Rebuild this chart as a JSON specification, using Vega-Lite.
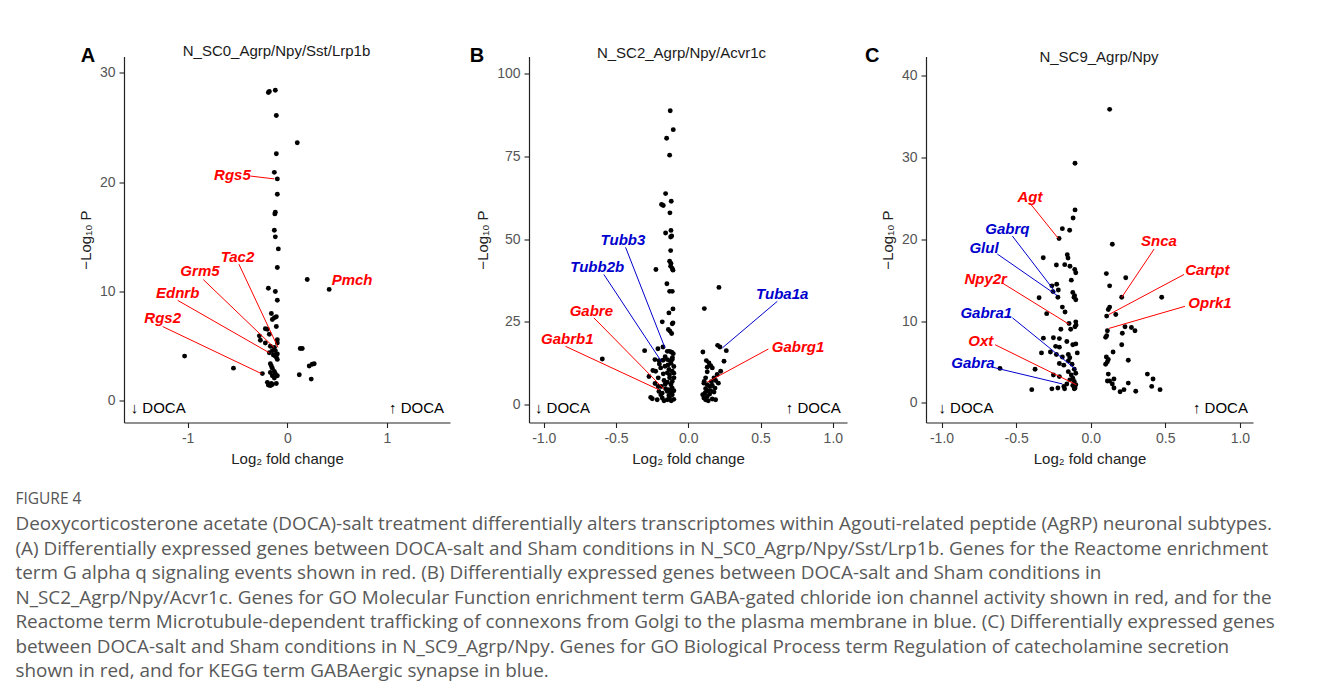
{
  "$schema": "https://vega.github.io/schema/vega-lite/v6.json",
  "background": "white",
  "padding": {"left": 15, "top": 43.5, "right": 5, "bottom": 5},
  "bounds": "flush",
  "spacing": 79,
  "config": {
    "view": {"stroke": null},
    "font": "Liberation Sans",
    "axis": {"grid": false, "domainColor": "#222", "domainWidth": 1.2, "tickColor": "#222", "tickSize": 5, "tickWidth": 1.1, "labelColor": "#555", "labelFontSize": 14, "labelPadding": 4, "titleColor": "#222", "titleFontSize": 15, "titleFontWeight": "normal", "titlePadding": 6, "labelFont": "Liberation Sans", "titleFont": "Liberation Sans"}
  },
  "title": {
    "text": "FIGURE 4",
    "subtitle": [
      "Deoxycorticosterone acetate (DOCA)-salt treatment differentially alters transcriptomes within Agouti-related peptide (AgRP) neuronal subtypes.",
      "(A) Differentially expressed genes between DOCA-salt and Sham conditions in N_SC0_Agrp/Npy/Sst/Lrp1b. Genes for the Reactome enrichment",
      "term G alpha q signaling events shown in red. (B) Differentially expressed genes between DOCA-salt and Sham conditions in",
      "N_SC2_Agrp/Npy/Acvr1c. Genes for GO Molecular Function enrichment term GABA-gated chloride ion channel activity shown in red, and for the",
      "Reactome term Microtubule-dependent trafficking of connexons from Golgi to the plasma membrane in blue. (C) Differentially expressed genes",
      "between DOCA-salt and Sham conditions in N_SC9_Agrp/Npy. Genes for GO Biological Process term Regulation of catecholamine secretion",
      "shown in red, and for KEGG term GABAergic synapse in blue."
    ],
    "orient": "bottom",
    "anchor": "start",
    "dx": -63,
    "offset": 25,
    "font": "Open Sans",
    "fontSize": 15.5,
    "fontWeight": "normal",
    "color": "#555",
    "subtitleFont": "Open Sans",
    "subtitleFontSize": 18.9,
    "subtitleColor": "#595959",
    "subtitleLineHeight": 24.5,
    "subtitlePadding": 8
  },
  "datasets": {
    "ptsA": [
      {"lfc": -0.19, "nlp": 28.2}, {"lfc": -0.18, "nlp": 28.3}, {"lfc": -0.12, "nlp": 28.4},
      {"lfc": -0.11, "nlp": 26.1}, {"lfc": 0.10, "nlp": 23.6}, {"lfc": -0.11, "nlp": 22.6},
      {"lfc": -0.13, "nlp": 20.9}, {"lfc": -0.10, "nlp": 20.3}, {"lfc": -0.10, "nlp": 18.9},
      {"lfc": -0.12, "nlp": 17.25}, {"lfc": -0.125, "nlp": 17.1}, {"lfc": -0.13, "nlp": 15.6},
      {"lfc": -0.12, "nlp": 15.0}, {"lfc": -0.09, "nlp": 13.9}, {"lfc": -0.10, "nlp": 12.2},
      {"lfc": 0.20, "nlp": 11.1}, {"lfc": 0.42, "nlp": 10.2}, {"lfc": -0.19, "nlp": 10.3},
      {"lfc": -0.12, "nlp": 10.0}, {"lfc": -0.10, "nlp": 9.2}, {"lfc": -0.16, "nlp": 8.0},
      {"lfc": -0.15, "nlp": 7.45}, {"lfc": -0.13, "nlp": 7.6}, {"lfc": -0.11, "nlp": 7.7},
      {"lfc": -0.11, "nlp": 6.8}, {"lfc": -0.22, "nlp": 6.6}, {"lfc": -0.20, "nlp": 6.55},
      {"lfc": -0.18, "nlp": 6.1}, {"lfc": -0.28, "nlp": 5.95}, {"lfc": -0.27, "nlp": 5.55},
      {"lfc": -0.10, "nlp": 5.6}, {"lfc": -0.10, "nlp": 5.3}, {"lfc": -0.22, "nlp": 5.3},
      {"lfc": -0.17, "nlp": 5.0}, {"lfc": -0.13, "nlp": 4.9}, {"lfc": -0.15, "nlp": 4.6},
      {"lfc": -0.12, "nlp": 4.6}, {"lfc": -0.18, "nlp": 4.4}, {"lfc": -0.10, "nlp": 4.3},
      {"lfc": -0.11, "nlp": 4.0}, {"lfc": -0.14, "nlp": 4.2}, {"lfc": -0.10, "nlp": 3.8},
      {"lfc": -0.12, "nlp": 4.1}, {"lfc": 0.13, "nlp": 4.8}, {"lfc": 0.15, "nlp": 4.8},
      {"lfc": -1.03, "nlp": 4.1}, {"lfc": -0.54, "nlp": 3.0}, {"lfc": -0.25, "nlp": 2.5},
      {"lfc": -0.17, "nlp": 3.4}, {"lfc": -0.15, "nlp": 3.0}, {"lfc": -0.13, "nlp": 2.7},
      {"lfc": -0.12, "nlp": 2.5}, {"lfc": -0.10, "nlp": 2.3}, {"lfc": -0.17, "nlp": 2.6},
      {"lfc": -0.15, "nlp": 2.3}, {"lfc": -0.16, "nlp": 3.2}, {"lfc": -0.13, "nlp": 2.1},
      {"lfc": 0.22, "nlp": 3.2}, {"lfc": 0.25, "nlp": 3.35}, {"lfc": 0.27, "nlp": 3.4},
      {"lfc": 0.12, "nlp": 2.4}, {"lfc": 0.24, "nlp": 2.0}, {"lfc": -0.20, "nlp": 1.7},
      {"lfc": -0.18, "nlp": 1.5}, {"lfc": -0.16, "nlp": 1.6}, {"lfc": -0.19, "nlp": 1.45},
      {"lfc": -0.11, "nlp": 1.6}, {"lfc": -0.17, "nlp": 1.4}, {"lfc": -0.15, "nlp": 1.5}
    ],
    "labA": [
      {"gene": "Rgs5", "set": "G alpha q signaling events", "tx": -0.55, "ty": 20.7, "x0": -0.37, "y0": 20.56, "x1": -0.13, "y1": 20.3},
      {"gene": "Tac2", "set": "G alpha q signaling events", "tx": -0.50, "ty": 13.2, "x0": -0.485, "y0": 12.5, "x1": -0.094, "y1": 4.9},
      {"gene": "Grm5", "set": "G alpha q signaling events", "tx": -0.876, "ty": 11.9, "x0": -0.843, "y0": 11.1, "x1": -0.134, "y1": 4.9},
      {"gene": "Ednrb", "set": "G alpha q signaling events", "tx": -1.10, "ty": 9.84, "x0": -1.10, "y0": 9.2, "x1": -0.18, "y1": 4.4},
      {"gene": "Rgs2", "set": "G alpha q signaling events", "tx": -1.25, "ty": 7.55, "x0": -1.25, "y0": 6.8, "x1": -0.26, "y1": 2.5},
      {"gene": "Pmch", "set": "G alpha q signaling events", "tx": 0.65, "ty": 11.1}
    ],
    "docaA": [
      {"t": "↓ DOCA", "x": -1.571, "y": -0.6, "side": "down"},
      {"t": "↑ DOCA", "x": 1.572, "y": -0.6, "side": "up"}
    ],
    "tagA": [{"panel": "A", "x": -2.0, "y": 31.5}],
    "ptsB": [
      {"lfc": -0.125, "nlp": 88.7}, {"lfc": -0.104, "nlp": 83.0}, {"lfc": -0.15, "nlp": 80.4},
      {"lfc": -0.129, "nlp": 75.3}, {"lfc": -0.157, "nlp": 63.7}, {"lfc": -0.185, "nlp": 60.4},
      {"lfc": -0.173, "nlp": 60.1}, {"lfc": -0.118, "nlp": 61.4}, {"lfc": -0.127, "nlp": 57.9},
      {"lfc": -0.12, "nlp": 52.6}, {"lfc": -0.157, "nlp": 51.8}, {"lfc": -0.115, "nlp": 50.9},
      {"lfc": -0.122, "nlp": 50.6}, {"lfc": -0.122, "nlp": 46.5}, {"lfc": -0.129, "nlp": 43.3},
      {"lfc": -0.12, "nlp": 42.6}, {"lfc": -0.111, "nlp": 41.1}, {"lfc": -0.106, "nlp": 40.6},
      {"lfc": -0.122, "nlp": 41.8}, {"lfc": -0.224, "nlp": 40.8}, {"lfc": -0.148, "nlp": 36.5},
      {"lfc": -0.129, "nlp": 34.2}, {"lfc": -0.111, "nlp": 34.2}, {"lfc": -0.106, "nlp": 28.9},
      {"lfc": -0.134, "nlp": 27.7}, {"lfc": -0.18, "nlp": 25.0}, {"lfc": -0.111, "nlp": 24.4},
      {"lfc": -0.106, "nlp": 24.7}, {"lfc": -0.138, "nlp": 22.7}, {"lfc": -0.127, "nlp": 22.2},
      {"lfc": -0.115, "nlp": 21.5}, {"lfc": -0.302, "nlp": 16.3}, {"lfc": -0.595, "nlp": 13.8},
      {"lfc": -0.21, "nlp": 16.9}, {"lfc": -0.175, "nlp": 17.4}, {"lfc": -0.145, "nlp": 16.1},
      {"lfc": -0.129, "nlp": 16.1}, {"lfc": -0.115, "nlp": 15.8}, {"lfc": -0.104, "nlp": 15.4},
      {"lfc": -0.231, "nlp": 13.6}, {"lfc": -0.203, "nlp": 13.3}, {"lfc": -0.175, "nlp": 13.4},
      {"lfc": -0.145, "nlp": 13.6}, {"lfc": -0.127, "nlp": 13.3}, {"lfc": -0.111, "nlp": 13.6},
      {"lfc": -0.245, "nlp": 10.3}, {"lfc": -0.226, "nlp": 10.1}, {"lfc": -0.191, "nlp": 11.1},
      {"lfc": -0.161, "nlp": 11.6}, {"lfc": -0.134, "nlp": 10.6}, {"lfc": -0.111, "nlp": 10.1},
      {"lfc": -0.145, "nlp": 9.6}, {"lfc": -0.173, "nlp": 9.3}, {"lfc": -0.272, "nlp": 8.5},
      {"lfc": -0.208, "nlp": 8.1}, {"lfc": -0.168, "nlp": 7.3}, {"lfc": -0.145, "nlp": 6.8},
      {"lfc": -0.111, "nlp": 7.0}, {"lfc": -0.129, "nlp": 8.1}, {"lfc": -0.099, "nlp": 8.1},
      {"lfc": -0.208, "nlp": 5.5}, {"lfc": -0.157, "nlp": 4.8}, {"lfc": -0.187, "nlp": 5.5},
      {"lfc": -0.134, "nlp": 4.5}, {"lfc": -0.111, "nlp": 5.0}, {"lfc": -0.203, "nlp": 4.0},
      {"lfc": -0.18, "nlp": 3.5}, {"lfc": -0.145, "nlp": 4.0}, {"lfc": -0.122, "nlp": 3.8},
      {"lfc": -0.111, "nlp": 3.0}, {"lfc": -0.134, "nlp": 2.8}, {"lfc": -0.249, "nlp": 1.8},
      {"lfc": -0.215, "nlp": 1.5}, {"lfc": -0.18, "nlp": 2.0}, {"lfc": -0.145, "nlp": 1.5},
      {"lfc": -0.118, "nlp": 1.2}, {"lfc": -0.168, "nlp": 1.2}, {"lfc": -0.12, "nlp": 12.5},
      {"lfc": -0.14, "nlp": 12.0}, {"lfc": -0.10, "nlp": 11.5}, {"lfc": -0.20, "nlp": 12.3},
      {"lfc": -0.16, "nlp": 14.5}, {"lfc": -0.11, "nlp": 14.2}, {"lfc": -0.13, "nlp": 9.0},
      {"lfc": -0.10, "nlp": 9.5}, {"lfc": -0.23, "nlp": 6.4}, {"lfc": -0.12, "nlp": 6.0},
      {"lfc": -0.16, "nlp": 6.2}, {"lfc": -0.10, "nlp": 4.2}, {"lfc": -0.19, "nlp": 3.0},
      {"lfc": -0.26, "nlp": 2.2}, {"lfc": -0.10, "nlp": 1.6}, {"lfc": -0.13, "nlp": 2.1},
      {"lfc": 0.212, "nlp": 35.4}, {"lfc": 0.111, "nlp": 29.0}, {"lfc": 0.203, "nlp": 17.9},
      {"lfc": 0.219, "nlp": 17.4}, {"lfc": 0.263, "nlp": 16.3}, {"lfc": 0.101, "nlp": 15.9},
      {"lfc": 0.247, "nlp": 13.1}, {"lfc": 0.125, "nlp": 13.3}, {"lfc": 0.143, "nlp": 12.6},
      {"lfc": 0.155, "nlp": 11.8}, {"lfc": 0.131, "nlp": 11.3}, {"lfc": 0.166, "nlp": 11.1},
      {"lfc": 0.224, "nlp": 10.1}, {"lfc": 0.131, "nlp": 9.9}, {"lfc": 0.20, "nlp": 9.1},
      {"lfc": 0.12, "nlp": 8.1}, {"lfc": 0.178, "nlp": 8.1}, {"lfc": 0.189, "nlp": 7.3},
      {"lfc": 0.208, "nlp": 6.5}, {"lfc": 0.108, "nlp": 6.5}, {"lfc": 0.131, "nlp": 6.0},
      {"lfc": 0.148, "nlp": 5.5}, {"lfc": 0.166, "nlp": 5.8}, {"lfc": 0.185, "nlp": 5.0},
      {"lfc": 0.12, "nlp": 4.8}, {"lfc": 0.155, "nlp": 4.2}, {"lfc": 0.178, "nlp": 3.8},
      {"lfc": 0.115, "nlp": 3.5}, {"lfc": 0.131, "nlp": 2.5}, {"lfc": 0.148, "nlp": 3.2},
      {"lfc": 0.108, "nlp": 2.0}, {"lfc": 0.12, "nlp": 1.5}, {"lfc": 0.166, "nlp": 1.7},
      {"lfc": 0.189, "nlp": 1.5}, {"lfc": 0.138, "nlp": 1.2}, {"lfc": 0.11, "nlp": 7.0},
      {"lfc": 0.16, "nlp": 6.9}, {"lfc": 0.13, "nlp": 4.2}, {"lfc": 0.10, "nlp": 3.0}
    ],
    "labB": [
      {"gene": "Tubb3", "set": "Microtubule-dependent trafficking", "tx": -0.452, "ty": 49.6, "x0": -0.434, "y0": 47.5, "x1": -0.161, "y1": 17.1},
      {"gene": "Tubb2b", "set": "Microtubule-dependent trafficking", "tx": -0.63, "ty": 41.5, "x0": -0.584, "y0": 39.3, "x1": -0.187, "y1": 13.1},
      {"gene": "Tuba1a", "set": "Microtubule-dependent trafficking", "tx": 0.65, "ty": 33.5, "x0": 0.616, "y0": 31.2, "x1": 0.235, "y1": 17.1},
      {"gene": "Gabre", "set": "GABA-gated chloride ion channel activity", "tx": -0.671, "ty": 28.4, "x0": -0.653, "y0": 26.2, "x1": -0.168, "y1": 4.7},
      {"gene": "Gabrb1", "set": "GABA-gated chloride ion channel activity", "tx": -0.837, "ty": 19.9, "x0": -0.849, "y0": 17.6, "x1": -0.203, "y1": 4.5},
      {"gene": "Gabrg1", "set": "GABA-gated chloride ion channel activity", "tx": 0.759, "ty": 17.3, "x0": 0.554, "y0": 16.8, "x1": 0.131, "y1": 6.8}
    ],
    "docaB": [
      {"t": "↓ DOCA", "x": -1.061, "y": -1.0, "side": "down"},
      {"t": "↑ DOCA", "x": 1.055, "y": -1.0, "side": "up"}
    ],
    "tagB": [{"panel": "B", "x": -1.462, "y": 105.2}],
    "ptsC": [
      {"lfc": -0.105, "nlp": 29.3}, {"lfc": -0.105, "nlp": 23.6}, {"lfc": -0.118, "nlp": 22.6},
      {"lfc": -0.19, "nlp": 21.3}, {"lfc": -0.141, "nlp": 21.1}, {"lfc": -0.212, "nlp": 20.1},
      {"lfc": -0.318, "nlp": 17.75}, {"lfc": -0.157, "nlp": 18.1}, {"lfc": -0.152, "nlp": 17.7},
      {"lfc": -0.23, "nlp": 16.85}, {"lfc": -0.174, "nlp": 16.9}, {"lfc": -0.139, "nlp": 16.7},
      {"lfc": -0.107, "nlp": 16.3}, {"lfc": -0.10, "nlp": 15.9}, {"lfc": -0.13, "nlp": 15.0},
      {"lfc": -0.228, "nlp": 14.5}, {"lfc": -0.26, "nlp": 14.3}, {"lfc": -0.217, "nlp": 13.8},
      {"lfc": -0.253, "nlp": 13.6}, {"lfc": -0.22, "nlp": 12.9}, {"lfc": -0.346, "nlp": 12.85},
      {"lfc": -0.12, "nlp": 13.5}, {"lfc": -0.108, "nlp": 13.1}, {"lfc": -0.10, "nlp": 12.6},
      {"lfc": -0.112, "nlp": 12.9}, {"lfc": -0.19, "nlp": 11.7}, {"lfc": -0.172, "nlp": 11.1},
      {"lfc": -0.295, "nlp": 10.9}, {"lfc": -0.145, "nlp": 9.7}, {"lfc": -0.10, "nlp": 9.9},
      {"lfc": -0.098, "nlp": 9.5}, {"lfc": -0.105, "nlp": 9.3}, {"lfc": -0.20, "nlp": 9.0},
      {"lfc": -0.134, "nlp": 9.0}, {"lfc": -0.317, "nlp": 7.9}, {"lfc": -0.25, "nlp": 7.95},
      {"lfc": -0.21, "nlp": 7.85}, {"lfc": -0.16, "nlp": 7.5}, {"lfc": -0.12, "nlp": 7.1},
      {"lfc": -0.10, "nlp": 7.2}, {"lfc": -0.235, "nlp": 6.9}, {"lfc": -0.21, "nlp": 6.8},
      {"lfc": -0.33, "nlp": 6.1}, {"lfc": -0.27, "nlp": 6.2}, {"lfc": -0.23, "nlp": 5.9},
      {"lfc": -0.19, "nlp": 5.6}, {"lfc": -0.15, "nlp": 5.9}, {"lfc": -0.14, "nlp": 5.5},
      {"lfc": -0.09, "nlp": 6.1}, {"lfc": -0.21, "nlp": 4.8}, {"lfc": -0.18, "nlp": 4.6},
      {"lfc": -0.15, "nlp": 5.1}, {"lfc": -0.125, "nlp": 4.7}, {"lfc": -0.11, "nlp": 4.1},
      {"lfc": -0.373, "nlp": 4.1}, {"lfc": -0.608, "nlp": 4.2}, {"lfc": -0.25, "nlp": 3.4},
      {"lfc": -0.21, "nlp": 3.2}, {"lfc": -0.15, "nlp": 3.8}, {"lfc": -0.13, "nlp": 3.4},
      {"lfc": -0.12, "nlp": 3.0}, {"lfc": -0.10, "nlp": 3.6}, {"lfc": -0.11, "nlp": 2.6},
      {"lfc": -0.14, "nlp": 2.8}, {"lfc": -0.16, "nlp": 2.3}, {"lfc": -0.10, "nlp": 2.2},
      {"lfc": -0.105, "nlp": 1.8}, {"lfc": -0.12, "nlp": 2.1}, {"lfc": -0.395, "nlp": 1.6},
      {"lfc": -0.26, "nlp": 1.7}, {"lfc": -0.22, "nlp": 1.8}, {"lfc": -0.18, "nlp": 2.0},
      {"lfc": -0.175, "nlp": 1.7}, {"lfc": -0.11, "nlp": 1.7},
      {"lfc": 0.127, "nlp": 35.9}, {"lfc": 0.145, "nlp": 19.4}, {"lfc": 0.105, "nlp": 15.8},
      {"lfc": 0.235, "nlp": 15.3}, {"lfc": 0.127, "nlp": 14.3}, {"lfc": 0.476, "nlp": 12.9},
      {"lfc": 0.208, "nlp": 12.9}, {"lfc": 0.127, "nlp": 11.7}, {"lfc": 0.118, "nlp": 11.4},
      {"lfc": 0.168, "nlp": 10.8}, {"lfc": 0.107, "nlp": 10.6}, {"lfc": 0.23, "nlp": 9.3},
      {"lfc": 0.273, "nlp": 9.2}, {"lfc": 0.297, "nlp": 8.8}, {"lfc": 0.112, "nlp": 8.8},
      {"lfc": 0.212, "nlp": 8.5}, {"lfc": 0.107, "nlp": 8.2}, {"lfc": 0.10, "nlp": 8.0},
      {"lfc": 0.208, "nlp": 7.1}, {"lfc": 0.15, "nlp": 6.2}, {"lfc": 0.105, "nlp": 5.6},
      {"lfc": 0.118, "nlp": 5.3}, {"lfc": 0.112, "nlp": 5.0}, {"lfc": 0.10, "nlp": 4.7},
      {"lfc": 0.252, "nlp": 5.2}, {"lfc": 0.118, "nlp": 3.5}, {"lfc": 0.156, "nlp": 2.9},
      {"lfc": 0.38, "nlp": 3.5}, {"lfc": 0.418, "nlp": 2.9}, {"lfc": 0.112, "nlp": 2.65},
      {"lfc": 0.127, "nlp": 2.65}, {"lfc": 0.145, "nlp": 2.3}, {"lfc": 0.252, "nlp": 2.4},
      {"lfc": 0.409, "nlp": 2.0}, {"lfc": 0.156, "nlp": 1.8}, {"lfc": 0.223, "nlp": 1.6},
      {"lfc": 0.197, "nlp": 1.35}, {"lfc": 0.302, "nlp": 1.4}, {"lfc": 0.465, "nlp": 1.6}
    ],
    "labC": [
      {"gene": "Agt", "set": "Regulation of catecholamine secretion", "tx": -0.407, "ty": 25.2, "x0": -0.402, "y0": 24.3, "x1": -0.217, "y1": 20.1},
      {"gene": "Gabrq", "set": "GABAergic synapse", "tx": -0.559, "ty": 21.2, "x0": -0.525, "y0": 20.4, "x1": -0.235, "y1": 13.5},
      {"gene": "Glul", "set": "GABAergic synapse", "tx": -0.715, "ty": 18.9, "x0": -0.626, "y0": 18.2, "x1": -0.223, "y1": 13.1},
      {"gene": "Npy2r", "set": "Regulation of catecholamine secretion", "tx": -0.704, "ty": 15.1, "x0": -0.588, "y0": 14.6, "x1": -0.145, "y1": 9.6},
      {"gene": "Gabra1", "set": "GABAergic synapse", "tx": -0.70, "ty": 11.0, "x0": -0.525, "y0": 10.4, "x1": -0.10, "y1": 4.1},
      {"gene": "Oxt", "set": "Regulation of catecholamine secretion", "tx": -0.737, "ty": 7.55, "x0": -0.641, "y0": 7.1, "x1": -0.096, "y1": 2.2},
      {"gene": "Gabra", "set": "GABAergic synapse", "tx": -0.789, "ty": 4.9, "x0": -0.648, "y0": 4.3, "x1": -0.19, "y1": 2.3},
      {"gene": "Snca", "set": "Regulation of catecholamine secretion", "tx": 0.458, "ty": 19.8, "x0": 0.425, "y0": 18.8, "x1": 0.208, "y1": 12.9},
      {"gene": "Cartpt", "set": "Regulation of catecholamine secretion", "tx": 0.782, "ty": 16.3, "x0": 0.626, "y0": 15.7, "x1": 0.123, "y1": 10.8},
      {"gene": "Oprk1", "set": "Regulation of catecholamine secretion", "tx": 0.80, "ty": 12.2, "x0": 0.632, "y0": 11.8, "x1": 0.123, "y1": 9.1}
    ],
    "docaC": [
      {"t": "↓ DOCA", "x": -1.021, "y": -0.69, "side": "down"},
      {"t": "↑ DOCA", "x": 1.054, "y": -0.69, "side": "up"}
    ],
    "tagC": [{"panel": "C", "x": -1.464, "y": 42.43}]
  },
  "hconcat": [
    {
      "width": 326,
      "height": 366,
      "title": {"text": "N_SC0_Agrp/Npy/Sst/Lrp1b", "font": "Liberation Sans", "fontSize": 15, "fontWeight": "normal", "color": "#1a1a1a", "anchor": "middle", "dx": -10.5, "dy": 14.5, "offset": 2},
      "layer": [
        {
          "data": {"name": "ptsA"},
          "mark": {"type": "circle", "size": 24, "opacity": 1, "color": "#000"},
          "encoding": {
            "x": {"field": "lfc", "type": "quantitative", "title": "Log₂ fold change", "scale": {"domain": [-1.638, 1.632], "nice": false, "zero": false}, "axis": {"values": [-1, 0, 1], "labelExpr": "datum.value < 0 ? '-' + format(-datum.value, 'd') : format(datum.value, 'd')"}},
            "y": {"field": "nlp", "type": "quantitative", "title": "−Log₁₀ P", "scale": {"domain": [-1.97, 31.49], "nice": false, "zero": false}, "axis": {"values": [0, 10, 20, 30]}}
          }
        },
        {
          "data": {"name": "labA"},
          "transform": [{"filter": "isValid(datum.x0)"}],
          "mark": {"type": "rule", "strokeWidth": 1},
          "encoding": {
            "x": {"field": "x0", "type": "quantitative", "title": "Log₂ fold change"},
            "y": {"field": "y0", "type": "quantitative", "title": "−Log₁₀ P"},
            "x2": {"field": "x1"},
            "y2": {"field": "y1"},
            "color": {"field": "set", "type": "nominal", "legend": null, "scale": {"domain": ["G alpha q signaling events", "GABA-gated chloride ion channel activity", "Microtubule-dependent trafficking", "Regulation of catecholamine secretion", "GABAergic synapse"], "range": ["#ff0000", "#ff0000", "#0000cd", "#ff0000", "#0000cd"]}}
          }
        },
        {
          "data": {"name": "labA"},
          "mark": {"type": "text", "font": "Liberation Sans", "fontSize": 15, "fontWeight": "bold", "fontStyle": "italic", "baseline": "middle", "align": "center"},
          "encoding": {
            "x": {"field": "tx", "type": "quantitative", "title": "Log₂ fold change"},
            "y": {"field": "ty", "type": "quantitative", "title": "−Log₁₀ P"},
            "text": {"field": "gene"},
            "color": {"field": "set", "type": "nominal", "legend": null}
          }
        },
        {
          "data": {"name": "docaA"},
          "transform": [{"filter": "datum.side == 'down'"}],
          "mark": {"type": "text", "font": "Liberation Sans", "fontSize": 15, "align": "left", "baseline": "middle", "color": "#000"},
          "encoding": {
            "x": {"field": "x", "type": "quantitative", "title": "Log₂ fold change"},
            "y": {"field": "y", "type": "quantitative", "title": "−Log₁₀ P"},
            "text": {"field": "t"}
          }
        },
        {
          "data": {"name": "docaA"},
          "transform": [{"filter": "datum.side == 'up'"}],
          "mark": {"type": "text", "font": "Liberation Sans", "fontSize": 15, "align": "right", "baseline": "middle", "color": "#000"},
          "encoding": {
            "x": {"field": "x", "type": "quantitative", "title": "Log₂ fold change"},
            "y": {"field": "y", "type": "quantitative", "title": "−Log₁₀ P"},
            "text": {"field": "t"}
          }
        },
        {
          "data": {"name": "tagA"},
          "mark": {"type": "text", "font": "Liberation Sans", "fontSize": 20, "fontWeight": "bold", "align": "center", "baseline": "middle", "color": "#000"},
          "encoding": {
            "x": {"field": "x", "type": "quantitative", "title": "Log₂ fold change"},
            "y": {"field": "y", "type": "quantitative", "title": "−Log₁₀ P"},
            "text": {"field": "panel"}
          }
        }
      ]
    },
    {
      "width": 318,
      "height": 366,
      "title": {"text": "N_SC2_Agrp/Npy/Acvr1c", "font": "Liberation Sans", "fontSize": 15, "fontWeight": "normal", "color": "#1a1a1a", "anchor": "middle", "dx": -6.5, "dy": 16.5, "offset": 2},
      "layer": [
        {
          "data": {"name": "ptsB"},
          "mark": {"type": "circle", "size": 24, "opacity": 1, "color": "#000"},
          "encoding": {
            "x": {"field": "lfc", "type": "quantitative", "title": "Log₂ fold change", "scale": {"domain": [-1.102, 1.098], "nice": false, "zero": false}, "axis": {"values": [-1, -0.5, 0, 0.5, 1], "labelExpr": "datum.value < 0 ? '-' + format(-datum.value, '.1f') : format(datum.value, '.1f')"}},
            "y": {"field": "nlp", "type": "quantitative", "title": "−Log₁₀ P", "scale": {"domain": [-5.38, 105.08], "nice": false, "zero": false}, "axis": {"values": [0, 25, 50, 75, 100]}}
          }
        },
        {
          "data": {"name": "labB"},
          "transform": [{"filter": "isValid(datum.x0)"}],
          "mark": {"type": "rule", "strokeWidth": 1},
          "encoding": {
            "x": {"field": "x0", "type": "quantitative", "title": "Log₂ fold change"},
            "y": {"field": "y0", "type": "quantitative", "title": "−Log₁₀ P"},
            "x2": {"field": "x1"},
            "y2": {"field": "y1"},
            "color": {"field": "set", "type": "nominal", "legend": null, "scale": {"domain": ["G alpha q signaling events", "GABA-gated chloride ion channel activity", "Microtubule-dependent trafficking", "Regulation of catecholamine secretion", "GABAergic synapse"], "range": ["#ff0000", "#ff0000", "#0000cd", "#ff0000", "#0000cd"]}}
          }
        },
        {
          "data": {"name": "labB"},
          "mark": {"type": "text", "font": "Liberation Sans", "fontSize": 15, "fontWeight": "bold", "fontStyle": "italic", "baseline": "middle", "align": "center"},
          "encoding": {
            "x": {"field": "tx", "type": "quantitative", "title": "Log₂ fold change"},
            "y": {"field": "ty", "type": "quantitative", "title": "−Log₁₀ P"},
            "text": {"field": "gene"},
            "color": {"field": "set", "type": "nominal", "legend": null}
          }
        },
        {
          "data": {"name": "docaB"},
          "transform": [{"filter": "datum.side == 'down'"}],
          "mark": {"type": "text", "font": "Liberation Sans", "fontSize": 15, "align": "left", "baseline": "middle", "color": "#000"},
          "encoding": {
            "x": {"field": "x", "type": "quantitative", "title": "Log₂ fold change"},
            "y": {"field": "y", "type": "quantitative", "title": "−Log₁₀ P"},
            "text": {"field": "t"}
          }
        },
        {
          "data": {"name": "docaB"},
          "transform": [{"filter": "datum.side == 'up'"}],
          "mark": {"type": "text", "font": "Liberation Sans", "fontSize": 15, "align": "right", "baseline": "middle", "color": "#000"},
          "encoding": {
            "x": {"field": "x", "type": "quantitative", "title": "Log₂ fold change"},
            "y": {"field": "y", "type": "quantitative", "title": "−Log₁₀ P"},
            "text": {"field": "t"}
          }
        },
        {
          "data": {"name": "tagB"},
          "mark": {"type": "text", "font": "Liberation Sans", "fontSize": 20, "fontWeight": "bold", "align": "center", "baseline": "middle", "color": "#000"},
          "encoding": {
            "x": {"field": "x", "type": "quantitative", "title": "Log₂ fold change"},
            "y": {"field": "y", "type": "quantitative", "title": "−Log₁₀ P"},
            "text": {"field": "panel"}
          }
        }
      ]
    },
    {
      "width": 327,
      "height": 366,
      "title": {"text": "N_SC9_Agrp/Npy", "font": "Liberation Sans", "fontSize": 15, "fontWeight": "normal", "color": "#1a1a1a", "anchor": "middle", "dx": 9.5, "dy": 21, "offset": 2},
      "layer": [
        {
          "data": {"name": "ptsC"},
          "mark": {"type": "circle", "size": 24, "opacity": 1, "color": "#000"},
          "encoding": {
            "x": {"field": "lfc", "type": "quantitative", "title": "Log₂ fold change", "scale": {"domain": [-1.104, 1.088], "nice": false, "zero": false}, "axis": {"values": [-1, -0.5, 0, 0.5, 1], "labelExpr": "datum.value < 0 ? '-' + format(-datum.value, '.1f') : format(datum.value, '.1f')"}},
            "y": {"field": "nlp", "type": "quantitative", "title": "−Log₁₀ P", "scale": {"domain": [-2.42, 42.37], "nice": false, "zero": false}, "axis": {"values": [0, 10, 20, 30, 40]}}
          }
        },
        {
          "data": {"name": "labC"},
          "transform": [{"filter": "isValid(datum.x0)"}],
          "mark": {"type": "rule", "strokeWidth": 1},
          "encoding": {
            "x": {"field": "x0", "type": "quantitative", "title": "Log₂ fold change"},
            "y": {"field": "y0", "type": "quantitative", "title": "−Log₁₀ P"},
            "x2": {"field": "x1"},
            "y2": {"field": "y1"},
            "color": {"field": "set", "type": "nominal", "legend": null, "scale": {"domain": ["G alpha q signaling events", "GABA-gated chloride ion channel activity", "Microtubule-dependent trafficking", "Regulation of catecholamine secretion", "GABAergic synapse"], "range": ["#ff0000", "#ff0000", "#0000cd", "#ff0000", "#0000cd"]}}
          }
        },
        {
          "data": {"name": "labC"},
          "mark": {"type": "text", "font": "Liberation Sans", "fontSize": 15, "fontWeight": "bold", "fontStyle": "italic", "baseline": "middle", "align": "center"},
          "encoding": {
            "x": {"field": "tx", "type": "quantitative", "title": "Log₂ fold change"},
            "y": {"field": "ty", "type": "quantitative", "title": "−Log₁₀ P"},
            "text": {"field": "gene"},
            "color": {"field": "set", "type": "nominal", "legend": null}
          }
        },
        {
          "data": {"name": "docaC"},
          "transform": [{"filter": "datum.side == 'down'"}],
          "mark": {"type": "text", "font": "Liberation Sans", "fontSize": 15, "align": "left", "baseline": "middle", "color": "#000"},
          "encoding": {
            "x": {"field": "x", "type": "quantitative", "title": "Log₂ fold change"},
            "y": {"field": "y", "type": "quantitative", "title": "−Log₁₀ P"},
            "text": {"field": "t"}
          }
        },
        {
          "data": {"name": "docaC"},
          "transform": [{"filter": "datum.side == 'up'"}],
          "mark": {"type": "text", "font": "Liberation Sans", "fontSize": 15, "align": "right", "baseline": "middle", "color": "#000"},
          "encoding": {
            "x": {"field": "x", "type": "quantitative", "title": "Log₂ fold change"},
            "y": {"field": "y", "type": "quantitative", "title": "−Log₁₀ P"},
            "text": {"field": "t"}
          }
        },
        {
          "data": {"name": "tagC"},
          "mark": {"type": "text", "font": "Liberation Sans", "fontSize": 20, "fontWeight": "bold", "align": "center", "baseline": "middle", "color": "#000"},
          "encoding": {
            "x": {"field": "x", "type": "quantitative", "title": "Log₂ fold change"},
            "y": {"field": "y", "type": "quantitative", "title": "−Log₁₀ P"},
            "text": {"field": "panel"}
          }
        }
      ]
    }
  ]
}
